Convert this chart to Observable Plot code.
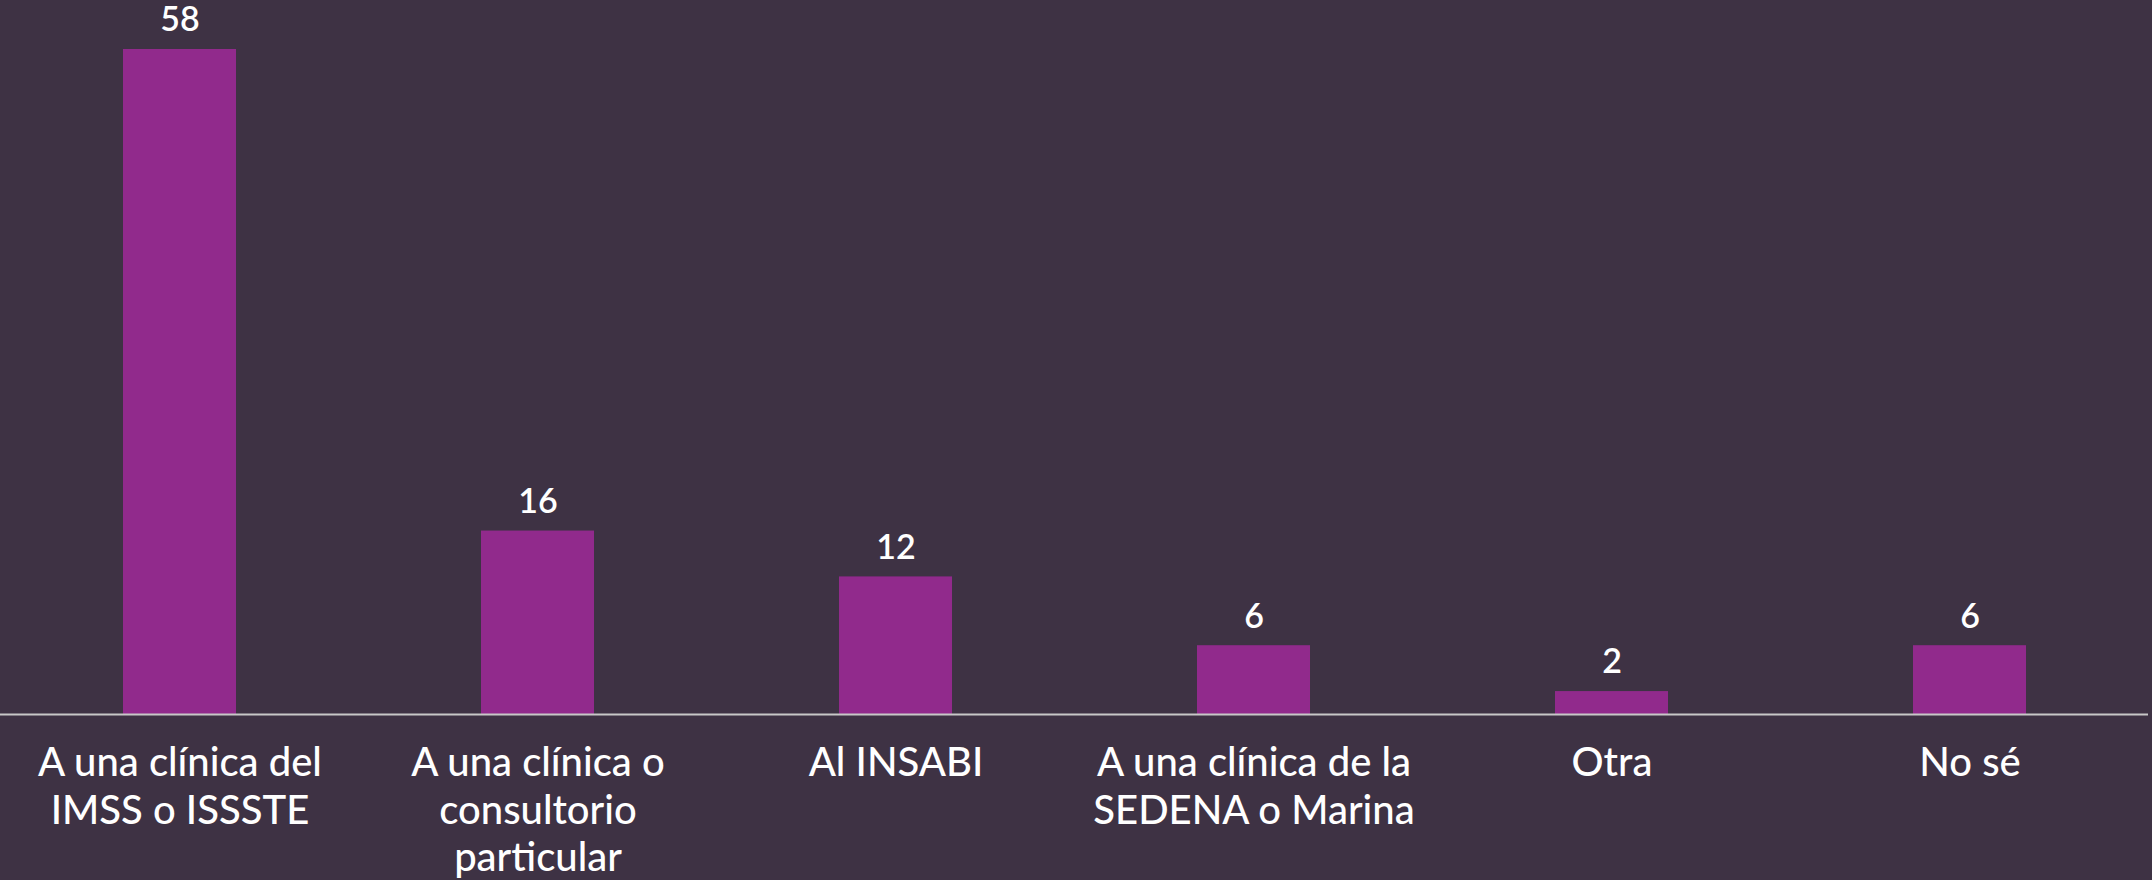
<!DOCTYPE html>
<html>
<head>
<meta charset="utf-8">
<script src="https://cdn.jsdelivr.net/npm/d3@7"></script>
<script src="https://cdn.jsdelivr.net/npm/@observablehq/plot@0.6"></script>
<style>
  html, body { margin: 0; padding: 0; background: #3e3244; }
  #chart svg { display: block; }
</style>
</head>
<body>
<div id="chart"></div>
<script>
const categories = [
  "A una clínica del IMSS o ISSSTE",
  "A una clínica o consultorio particular",
  "Al INSABI",
  "A una clínica de la SEDENA o Marina",
  "Otra",
  "No sé"
];
const tickLabels = [
  "A una clínica del\nIMSS o ISSSTE",
  "A una clínica o\nconsultorio\nparticular",
  "Al INSABI",
  "A una clínica de la\nSEDENA o Marina",
  "Otra",
  "No sé"
];
const values = [58, 16, 12, 6, 2, 6];

const data = categories.map((c, i) => ({category: c, value: values[i]}));
const labelOf = new Map(categories.map((c, i) => [c, tickLabels[i]]));

const chart = Plot.plot({
  width: 2152,
  height: 880,
  marginTop: 49,
  marginBottom: 166,
  marginLeft: 0,
  marginRight: 4,
  style: {background: "#3e3244", color: "#ffffff", fontFamily: "Lato, 'Open Sans', sans-serif"},
  x: {domain: categories, paddingInner: 0.685, paddingOuter: 0.3425, label: null},
  y: {domain: [0, 58], axis: null},
  marks: [
    Plot.barY(data, {x: "category", y: "value", fill: "#912a8c"}),
    Plot.ruleY([0], {stroke: "#c8c8c8", strokeWidth: 2}),
    Plot.text(data, {x: "category", y: "value", text: d => String(d.value), dy: -29, fill: "#ffffff", fontSize: 34, fontWeight: 600, lineAnchor: "middle"}),
    Plot.axisX({tickSize: 0, tickPadding: 28, fontSize: 40, fontWeight: 500, lineHeight: 1.19, tickFormat: d => labelOf.get(d), fill: "#ffffff", color: "#ffffff"})
  ]
});
document.getElementById("chart").appendChild(chart);
</script>
</body>
</html>
